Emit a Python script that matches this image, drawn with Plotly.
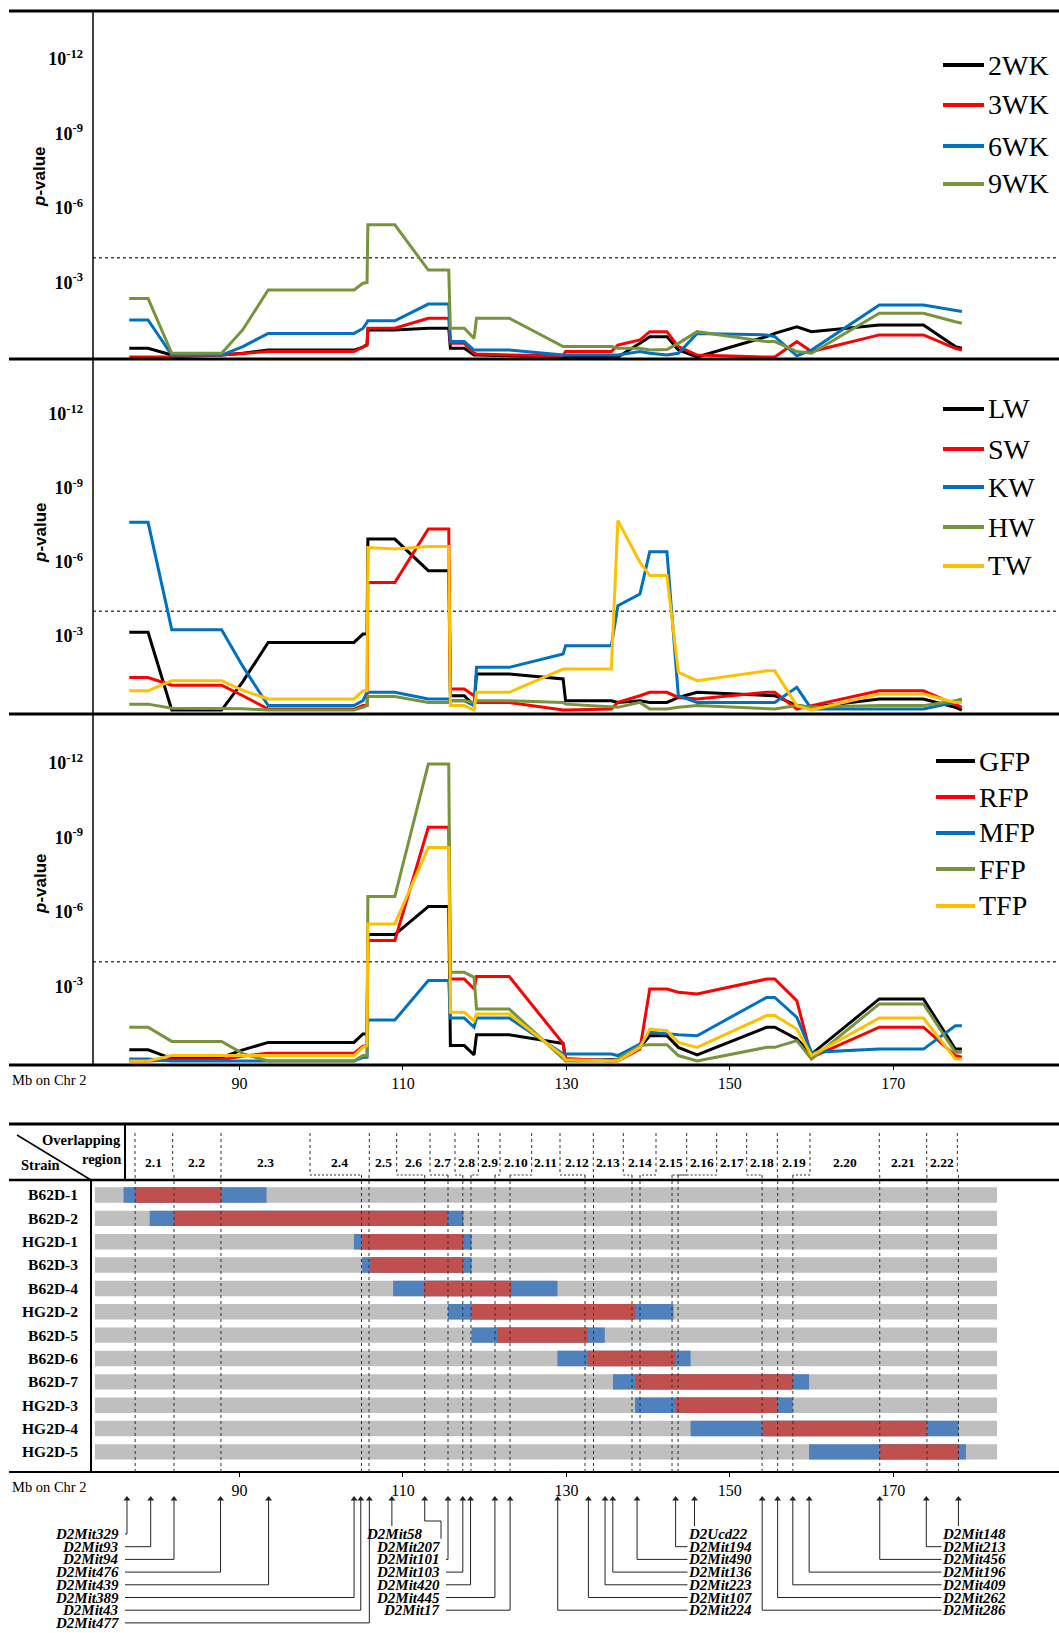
import plotly.graph_objects as go

W, H = 1059, 1633
SERIF = "Liberation Serif, Times New Roman, serif"
SANS = "Liberation Sans, Arial, sans-serif"

# ---------------- data (values are -log10 p) ----------------
MB = [76.5, 78.8, 81.7, 87.8, 90.4, 93.5, 104.0, 105.1, 105.6, 105.7, 109.0, 113.1,
      115.6, 115.8, 117.5, 118.7, 119.0, 123.0, 129.6, 129.9, 135.5, 136.3, 139.0,
      140.2, 142.3, 143.7, 146.0, 154.5, 155.5, 158.2, 160.0, 168.3, 173.7, 177.6, 178.4]

WEEK_NAMES = ["2WK", "3WK", "6WK", "9WK"]
WK2 = [0.35, 0.35, 0.08, 0.08, 0.15, 0.28, 0.28, 0.40, 0.50, 1.09, 1.09, 1.16, 1.16, 0.35, 0.35, 0.08, 0.08, 0.05,
       0.00, 0.00, 0.00, 0.00, 0.55, 0.82, 0.82, 0.28, 0.00, 0.82, 0.95, 1.22, 1.02, 1.29, 1.29, 0.42, 0.35]
WK3 = [0.00, 0.00, 0.00, 0.08, 0.15, 0.22, 0.22, 0.40, 0.48, 1.16, 1.16, 1.56, 1.56, 0.55, 0.55, 0.15, 0.12, 0.08,
       0.05, 0.22, 0.22, 0.48, 0.69, 1.02, 1.02, 0.42, 0.08, 0.00, 0.00, 0.62, 0.22, 0.89, 0.89, 0.35, 0.28]
WK6 = [1.49, 1.49, 0.08, 0.08, 0.42, 0.95, 0.95, 1.15, 1.40, 1.46, 1.46, 2.13, 2.13, 0.62, 0.62, 0.28, 0.28, 0.28,
       0.08, 0.08, 0.08, 0.08, 0.22, 0.15, 0.08, 0.15, 0.95, 0.89, 0.82, 0.05, 0.28, 2.09, 2.09, 1.89, 1.83]
WK9 = [2.36, 2.36, 0.15, 0.15, 1.10, 2.70, 2.70, 2.97, 3.00, 5.32, 5.32, 3.50, 3.50, 1.16, 1.16, 0.75, 1.56, 1.56,
       0.42, 0.42, 0.42, 0.35, 0.35, 0.28, 0.30, 0.55, 1.02, 0.62, 0.62, 0.22, 0.15, 1.76, 1.76, 1.42, 1.36]

WEIGHT_NAMES = ["LW", "SW", "KW", "HW", "TW"]
LW = [3.15, 3.15, 0.00, 0.00, 1.15, 2.74, 2.74, 3.08, 3.08, 6.93, 6.93, 5.65, 5.65, 0.58, 0.58, 0.18, 1.46, 1.46,
      1.26, 0.38, 0.38, 0.31, 0.38, 0.31, 0.31, 0.51, 0.72, 0.58, 0.58, 0.18, 0.11, 0.45, 0.45, 0.11, 0.00]
SW = [1.32, 1.32, 1.01, 1.01, 0.58, 0.04, 0.04, 0.18, 0.18, 5.17, 5.17, 7.34, 7.34, 0.85, 0.85, 0.58, 0.31, 0.31,
      0.00, 0.00, 0.04, 0.31, 0.58, 0.72, 0.72, 0.51, 0.45, 0.72, 0.72, 0.04, 0.18, 0.78, 0.78, 0.24, 0.11]
KW = [7.61, 7.61, 3.26, 3.26, 1.77, 0.18, 0.18, 0.38, 0.72, 0.72, 0.72, 0.45, 0.45, 0.38, 0.38, 0.18, 1.73, 1.73,
      2.27, 2.61, 2.61, 4.23, 4.70, 6.42, 6.42, 0.58, 0.31, 0.31, 0.31, 0.92, 0.04, 0.04, 0.04, 0.31, 0.38]
HW = [0.24, 0.24, 0.07, 0.07, 0.05, 0.00, 0.00, 0.11, 0.18, 0.55, 0.55, 0.31, 0.31, 0.38, 0.38, 0.31, 0.38, 0.38,
      0.31, 0.24, 0.11, 0.11, 0.31, 0.04, 0.04, 0.11, 0.18, 0.04, 0.04, 0.18, 0.11, 0.18, 0.18, 0.38, 0.45]
TW = [0.78, 0.78, 1.19, 1.19, 0.80, 0.45, 0.45, 0.78, 0.78, 6.59, 6.53, 6.63, 6.63, 0.18, 0.18, 0.00, 0.72, 0.72,
      1.66, 1.66, 1.66, 7.68, 5.99, 5.45, 5.45, 1.53, 1.19, 1.59, 1.59, 0.18, 0.00, 0.65, 0.65, 0.31, 0.31]

FAT_NAMES = ["GFP", "RFP", "MFP", "FFP", "TFP"]
GFP = [0.45, 0.45, 0.10, 0.15, 0.45, 0.75, 0.75, 1.09, 1.09, 5.09, 5.09, 6.22, 6.22, 0.62, 0.62, 0.25, 1.06, 1.06,
       0.70, 0.02, 0.05, 0.05, 0.55, 1.02, 1.02, 0.55, 0.25, 1.36, 1.36, 0.89, 0.28, 2.50, 2.50, 0.48, 0.48]
RFP = [0.00, 0.00, 0.05, 0.05, 0.20, 0.31, 0.31, 0.60, 0.62, 4.85, 4.85, 9.41, 9.41, 3.30, 3.30, 2.90, 3.40, 3.40,
       0.70, 0.10, 0.00, 0.00, 0.48, 2.90, 2.90, 2.77, 2.70, 3.30, 3.30, 2.43, 0.15, 1.36, 1.36, 0.22, 0.15]
MFP = [0.08, 0.08, 0.00, 0.00, 0.00, 0.00, 0.00, 0.15, 0.15, 1.65, 1.65, 3.24, 3.24, 1.73, 1.73, 1.36, 1.73, 1.73,
       0.28, 0.28, 0.28, 0.22, 0.68, 1.16, 1.09, 1.06, 1.02, 2.56, 2.56, 1.76, 0.35, 0.48, 0.48, 1.42, 1.42]
FFP = [1.36, 1.36, 0.79, 0.79, 0.30, 0.00, 0.00, 0.22, 0.22, 6.62, 6.62, 11.96, 11.96, 3.57, 3.57, 3.37, 2.09, 2.09,
       0.10, 0.00, 0.00, 0.08, 0.62, 0.66, 0.66, 0.22, 0.00, 0.55, 0.55, 0.82, 0.08, 2.30, 2.30, 0.35, 0.35]
TFP = [0.00, 0.00, 0.22, 0.22, 0.22, 0.22, 0.22, 0.55, 0.62, 5.52, 5.52, 8.60, 8.60, 1.96, 1.96, 1.62, 1.89, 1.89,
       0.20, 0.05, 0.00, 0.00, 0.55, 1.29, 1.22, 0.75, 0.55, 1.83, 1.83, 1.29, 0.22, 1.73, 1.73, 0.08, 0.08]

THRESHOLD = 4.0
X_TICKS = [90, 110, 130, 150, 170]
Y_TICKS = [3, 6, 9, 12]
Y_TICK_LABELS = ["10<sup>-3</sup>", "10<sup>-6</sup>", "10<sup>-9</sup>", "10<sup>-12</sup>"]
COLORS = ["#000000", "#FF0000", "#0070C0", "#77933C", "#FFC000"]

STRAINS = ["B62D-1", "B62D-2", "HG2D-1", "B62D-3", "B62D-4", "HG2D-2",
           "B62D-5", "B62D-6", "B62D-7", "HG2D-3", "HG2D-4", "HG2D-5"]
CHR_START, CHR_END = 72.3, 182.7
BLUE_L = [75.8, 79.0, 104.0, 105.0, 108.8, 115.5, 118.4, 128.9, 135.7, 138.4, 145.2, 159.7]
RED_L = [77.2, 82.0, 105.0, 106.0, 112.6, 118.4, 121.5, 132.6, 138.4, 143.4, 154.0, 168.4]
RED_R = [87.8, 115.5, 117.4, 117.4, 123.3, 138.4, 132.6, 143.4, 157.7, 155.8, 174.1, 178.0]
BLUE_R = [93.3, 117.4, 118.4, 118.4, 128.9, 143.1, 134.7, 145.2, 159.7, 157.7, 178.0, 178.9]

REGIONS = ["2.1", "2.2", "2.3", "2.4", "2.5", "2.6", "2.7", "2.8", "2.9", "2.10", "2.11",
           "2.12", "2.13", "2.14", "2.15", "2.16", "2.17", "2.18", "2.19", "2.20", "2.21", "2.22"]
BOUNDARY_MB = [77.22, 81.97, 87.72, 104.92, 105.84, 112.66, 115.51, 117.32, 118.32, 121.26, 123.10,
               132.28, 133.32, 138.03, 139.01, 142.93, 143.67, 153.95, 155.86, 157.72, 168.35, 174.13, 177.98]

MARKERS = ["D2Mit329", "D2Mit93", "D2Mit94", "D2Mit476", "D2Mit439", "D2Mit389", "D2Mit43", "D2Mit477",
           "D2Mit58", "D2Mit207", "D2Mit101", "D2Mit103", "D2Mit420", "D2Mit445", "D2Mit17",
           "D2Mit224", "D2Mit107", "D2Mit223", "D2Mit136", "D2Mit490", "D2Mit194", "D2Ucd22",
           "D2Mit286", "D2Mit262", "D2Mit409", "D2Mit196", "D2Mit456", "D2Mit213", "D2Mit148"]
MARKER_MB = [76.22, 79.12, 81.97, 87.67, 93.55, 104.01, 104.83, 105.88,
             108.64, 112.66, 115.51, 117.32, 118.27, 121.25, 123.11,
             128.94, 132.69, 134.73, 135.68, 138.65, 143.37, 145.68,
             153.96, 155.85, 157.71, 159.71, 168.35, 174.05, 177.98]

# ---------------- layout helpers (pixel layout -> paper / axis units) ----------------
X_RANGE = [72.06, 190.29]
X0PX = 93


def py(p):
    return 1 - p / H


def px2mb(p):
    return X_RANGE[0] + (p - X0PX) * (X_RANGE[1] - X_RANGE[0]) / (W - X0PX)


def mb2px(m):
    return X0PX + (m - X_RANGE[0]) * (W - X0PX) / (X_RANGE[1] - X_RANGE[0])


fig = go.Figure()
layout = dict(width=W, height=H, margin=dict(l=0, r=0, t=0, b=0, pad=0), autosize=False,
              paper_bgcolor="white", plot_bgcolor="white", barmode="overlay", showlegend=False,
              font=dict(family=SERIF, color="black"))
shapes = []
annotations = []

PANELS = [
    dict(top=11, bot=359, rng=[-0.08, 13.93], names=WEEK_NAMES, vals=[WK2, WK3, WK6, WK9],
         leg_y=[65, 105, 146, 184], leg_x=(943, 984, 986), pv_y=177),
    dict(top=359, bot=714, rng=[-0.16, 14.23], names=WEIGHT_NAMES, vals=[LW, SW, KW, HW, TW],
         leg_y=[409, 449, 487, 527, 566], leg_x=(943, 984, 986), pv_y=533),
    dict(top=714, bot=1065, rng=[-0.16, 13.97], names=FAT_NAMES, vals=[GFP, RFP, MFP, FFP, TFP],
         leg_y=[761, 797, 833, 869, 906], leg_x=(936, 975, 977), pv_y=884),
]

for k, pn in enumerate(PANELS, start=1):
    sfx = "" if k == 1 else str(k)
    for name, vals, col in zip(pn["names"], pn["vals"], COLORS):
        fig.add_trace(go.Scatter(x=MB, y=vals, mode="lines", name=name,
                                 line=dict(color=col, width=3),
                                 xaxis="x" + sfx, yaxis="y" + sfx, showlegend=False))
    layout["xaxis" + sfx] = dict(domain=[X0PX / W, 1], range=X_RANGE, anchor="y" + sfx,
                                 showgrid=False, zeroline=False, showline=False,
                                 tickmode="array", tickvals=X_TICKS,
                                 showticklabels=(k == 3), ticks="outside" if k == 3 else "",
                                 ticklen=4, tickcolor="black",
                                 tickfont=dict(family=SERIF, size=16, color="black"))
    layout["yaxis" + sfx] = dict(domain=[py(pn["bot"]), py(pn["top"])], range=pn["rng"],
                                 anchor="x" + sfx, showgrid=False, zeroline=False, showline=False,
                                 tickmode="array", tickvals=Y_TICKS,
                                 ticktext=["<b>%s</b>" % t for t in Y_TICK_LABELS], ticks="",
                                 tickfont=dict(family=SERIF, size=18, color="black"),
                                 ticklabelstandoff=9)
    shapes.append(dict(type="line", xref="x%s domain" % sfx, x0=0, x1=1, yref="y" + sfx,
                       y0=THRESHOLD, y1=THRESHOLD, layer="below",
                       line=dict(color="#444", width=1.5, dash="dot")))
    lx0, lx1, tx = pn["leg_x"]
    for name, col, ly in zip(pn["names"], COLORS, pn["leg_y"]):
        shapes.append(dict(type="line", xref="paper", yref="paper", x0=lx0 / W, x1=lx1 / W,
                           y0=py(ly), y1=py(ly), line=dict(color=col, width=4)))
        annotations.append(dict(text=name, x=tx / W, y=py(ly), xref="paper", yref="paper",
                                xanchor="left", yanchor="middle", showarrow=False,
                                font=dict(family=SERIF, size=28, color="black")))
    annotations.append(dict(text="<b><i>p</i>-value</b>", x=40 / W, y=py(pn["pv_y"]),
                            xref="paper", yref="paper", xanchor="center", yanchor="middle",
                            textangle=-90, showarrow=False,
                            font=dict(family=SANS, size=17, color="black")))

for yy in [11, 359, 714, 1065]:
    shapes.append(dict(type="line", xref="paper", yref="paper", x0=9 / W, x1=1,
                       y0=py(yy), y1=py(yy), line=dict(color="black", width=3)))
shapes.append(dict(type="line", xref="paper", yref="paper", x0=X0PX / W, x1=X0PX / W,
                   y0=py(11), y1=py(1065), line=dict(color="black", width=1.5)))
annotations.append(dict(text="Mb on Chr 2", x=10 / W, y=py(1080), xref="paper", yref="paper",
                        xanchor="left", yanchor="middle", showarrow=False,
                        font=dict(family=SERIF, size=14.5, color="black")))

# ---------------- strain table ----------------
NROW = len(STRAINS)
rows = list(range(NROW))
fig.add_trace(go.Bar(orientation="h", y=rows, x=[CHR_END - CHR_START] * NROW, base=[CHR_START] * NROW,
                     width=0.66, marker=dict(color="#BFBFBF", line=dict(width=0)),
                     xaxis="x4", yaxis="y4", name="Chr 2", showlegend=False))
fig.add_trace(go.Bar(orientation="h", y=rows, x=[r - l for l, r in zip(BLUE_L, BLUE_R)], base=BLUE_L,
                     width=0.66, marker=dict(color="#4F81BD", line=dict(width=0)),
                     xaxis="x4", yaxis="y4", name="flanking", showlegend=False))
fig.add_trace(go.Bar(orientation="h", y=rows, x=[r - l for l, r in zip(RED_L, RED_R)], base=RED_L,
                     width=0.66, marker=dict(color="#C0504D", line=dict(width=0)),
                     xaxis="x4", yaxis="y4", name="congenic", showlegend=False))

layout["xaxis4"] = dict(domain=[X0PX / W, 1], range=X_RANGE, anchor="y4", showgrid=False,
                        zeroline=False, showline=False, tickmode="array", tickvals=X_TICKS,
                        ticks="outside", ticklen=4, tickcolor="black",
                        tickfont=dict(family=SERIF, size=16, color="black"))
layout["yaxis4"] = dict(domain=[py(1472), py(1180)], range=[11.86, -0.642], anchor="x4",
                        showgrid=False, zeroline=False, showline=False, tickmode="array",
                        tickvals=rows, ticktext=["<b>%s</b>" % s for s in STRAINS], ticks="",
                        tickfont=dict(family=SERIF, size=15.5, color="black"), ticklabelstandoff=14)

for yy, wd in [(1124, 3), (1180, 2.5), (1472, 2)]:
    shapes.append(dict(type="line", xref="paper", yref="paper", x0=9 / W, x1=1,
                       y0=py(yy), y1=py(yy), line=dict(color="black", width=wd)))
shapes.append(dict(type="line", xref="paper", yref="paper", x0=125 / W, x1=125 / W,
                   y0=py(1124), y1=py(1180), line=dict(color="black", width=2)))
shapes.append(dict(type="line", xref="paper", yref="paper", x0=91 / W, x1=91 / W,
                   y0=py(1180), y1=py(1472), line=dict(color="black", width=2)))
shapes.append(dict(type="line", xref="paper", yref="paper", x0=17 / W, x1=91 / W,
                   y0=py(1135), y1=py(1180), line=dict(color="black", width=1.5)))
for txt, xx, yy, anc in [("Overlapping", 123, 1140, "right"), ("region", 123, 1159, "right"),
                         ("Strain", 19, 1165, "left")]:
    annotations.append(dict(text="<b>%s</b>" % txt, x=xx / W, y=py(yy), xref="paper", yref="paper",
                            xanchor=anc, yanchor="middle", showarrow=False,
                            font=dict(family=SERIF, size=14.5, color="black")))
annotations.append(dict(text="Mb on Chr 2", x=10 / W, y=py(1487), xref="paper", yref="paper",
                        xanchor="left", yanchor="middle", showarrow=False,
                        font=dict(family=SERIF, size=14.5, color="black")))

HEADER_PX = [135, 172.7, 221, 310, 369.3, 396.7, 430, 455, 478.3, 500, 531.7, 560, 593.3, 623.3,
             656, 686.7, 716.7, 746.7, 777.3, 810, 879.3, 926.7, 957.3]
HEADER_MB = [px2mb(p) for p in HEADER_PX]
DASH = dict(color="#333", width=1, dash="3px,3px")
BRACKET_Y = 1175
for hx, bx, hp in zip(HEADER_MB, BOUNDARY_MB, HEADER_PX):
    shapes.append(dict(type="line", xref="x4", yref="paper", x0=hx, x1=hx,
                       y0=py(1133), y1=py(BRACKET_Y), line=DASH))
    if abs(mb2px(bx) - hp) > 2:
        shapes.append(dict(type="line", xref="x4", yref="paper", x0=hx, x1=bx,
                           y0=py(BRACKET_Y), y1=py(BRACKET_Y),
                           line=dict(color="#333", width=1, dash="2px,2px")))
    shapes.append(dict(type="line", xref="x4", yref="paper", x0=bx, x1=bx,
                       y0=py(BRACKET_Y), y1=py(1472), line=DASH))
for i, reg in enumerate(REGIONS):
    annotations.append(dict(text="<b>%s</b>" % reg, x=(HEADER_MB[i] + HEADER_MB[i + 1]) / 2, xref="x4",
                            y=py(1162), yref="paper", xanchor="center", yanchor="middle",
                            showarrow=False, font=dict(family=SERIF, size=13.5, color="black")))

# ---------------- marker labels & connectors (axis in pixel units below the table) ----------------
GROUP_RIGHT = {"A": 121, "B": 442, "C": 754, "D": 1008}
RIGHT_OVERRIDE = {"D2Mit58": 425, "D2Ucd22": 750}
LABEL_GROUP = "AAAAAAAABBBBBBBCCCCCCCDDDDDDD"
LABEL_ROW = [0, 1, 2, 3, 4, 5, 6, 7, 0, 1, 2, 3, 4, 5, 6, 6, 5, 4, 3, 2, 1, 0, 6, 5, 4, 3, 2, 1, 0]
CHARW = {"D": .722, "M": .889, "i": .278, "t": .278, "U": .722, "c": .444, "d": .5}
LFS = 15
ARROW_TOP = 1497
ROW0, ROW_STEP = 1534, 12.7
LINEC = "#222"

layout["xaxis5"] = dict(domain=[X0PX / W, 1], range=X_RANGE, anchor="y5", visible=False)
layout["yaxis5"] = dict(domain=[0, py(1476)], range=[H, 1476], anchor="x5", visible=False)

cx, cy = [], []
for name, mb, grp, row in zip(MARKERS, MARKER_MB, LABEL_GROUP, LABEL_ROW):
    right = RIGHT_OVERRIDE.get(name, GROUP_RIGHT[grp])
    wlab = LFS * sum(CHARW.get(c, .5) for c in name)
    left = right - wlab
    ry = ROW0 + row * ROW_STEP
    mpx = mb2px(mb)
    annotations.append(dict(text="<b><i>%s</i></b>" % name, x=right / W, y=py(ry), xref="paper",
                            yref="paper", xanchor="right", yanchor="middle", showarrow=False,
                            font=dict(family=SERIF, size=LFS, color="black")))
    if left - 2 <= mpx <= right + 2:
        if row == 0:
            pts = [(mb, ARROW_TOP), (mb, ry - 8)]
        else:
            jy = ARROW_TOP + 24
            pts = [(mb, ARROW_TOP), (mb, jy), (px2mb(right - 1), jy), (px2mb(right - 1), ry - 8)]
    elif mpx > right:
        pts = [(mb, ARROW_TOP), (mb, ry), (px2mb(right + 4), ry)]
    else:
        pts = [(mb, ARROW_TOP), (mb, ry), (px2mb(left - 4), ry)]
    for x, y in pts:
        cx.append(x)
        cy.append(y)
    cx.append(None)
    cy.append(None)

fig.add_trace(go.Scatter(x=cx, y=cy, mode="lines", line=dict(color=LINEC, width=1),
                         xaxis="x5", yaxis="y5", hoverinfo="skip", showlegend=False, name="connectors"))
fig.add_trace(go.Scatter(x=MARKER_MB, y=[ARROW_TOP + 2] * len(MARKER_MB), mode="markers",
                         marker=dict(symbol="triangle-up", size=6, color=LINEC),
                         xaxis="x5", yaxis="y5", cliponaxis=False, showlegend=False, name="markers",
                         text=MARKERS, hoverinfo="text"))

layout["shapes"] = shapes
layout["annotations"] = annotations
fig.update_layout(**layout)
fig.write_html("out.html", config={"displayModeBar": False},
               post_script="document.body.style.margin='0px';document.body.style.overflow='hidden';")
